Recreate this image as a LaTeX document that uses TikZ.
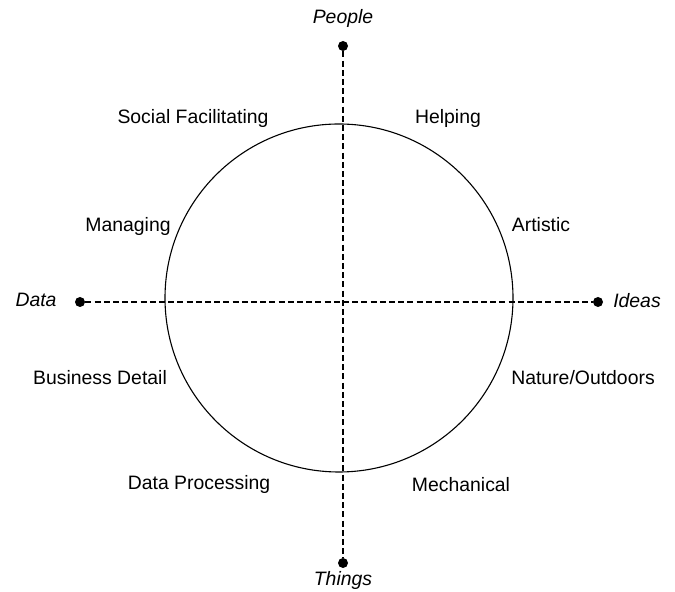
\documentclass[tikz,border=0pt]{standalone}
\usepackage{fontspec}
\setmainfont{Liberation Sans}
\usepackage{tikz}
\usetikzlibrary{positioning}

\tikzset{
    pole/.style={circle, fill=black, inner sep=0pt, minimum size=5pt},
    axisline/.style={dashed, dash pattern=on 3pt off 1.6pt, line width=0.55pt},
    area/.style={font=\fontsize{9.7}{11}\selectfont, inner sep=0pt},
    dimension/.style={font=\fontsize{9.7}{11}\selectfont\itshape, inner sep=0pt}
}

\begin{document}
\begin{tikzpicture}[x=0.5pt, y=-0.5pt]
    \useasboundingbox (0,0) rectangle (675,592);

    % Interest circle
    \node[draw, circle, line width=0.55pt, minimum size=174pt, inner sep=0pt] (wheel) at (339,298) {};

    % Poles of the two dimensions
    \node[pole] (people) at (343,46) {};
    \node[pole] (things) at (343,563) {};
    \node[pole] (data) at (80,302) {};
    \node[pole] (ideas) at (598,302) {};

    \draw[axisline] (people) -- (things);
    \draw[axisline] (data) -- (ideas);

    \node[dimension] (peoplelbl) at (343,18) {People};
    \node[dimension] (thingslbl) at (343,580) {Things};
    \node[dimension] (datalbl) at (36,300) {Data};
    \node[dimension] (ideaslbl) at (637,301) {Ideas};

    % Interest areas around the circle
    \node[area] (social) at (193,118) {Social Facilitating};
    \node[area] (helping) at (448,118) {Helping};
    \node[area] (managing) at (128,226) {Managing};
    \node[area] (artistic) at (541,225) {Artistic};
    \node[area] (business) at (100,378) {Business Detail};
    \node[area] (nature) at (583,378) {Nature/Outdoors};
    \node[area] (processing) at (199,484) {Data Processing};
    \node[area] (mechanical) at (461,485) {Mechanical};
\end{tikzpicture}
\end{document}
